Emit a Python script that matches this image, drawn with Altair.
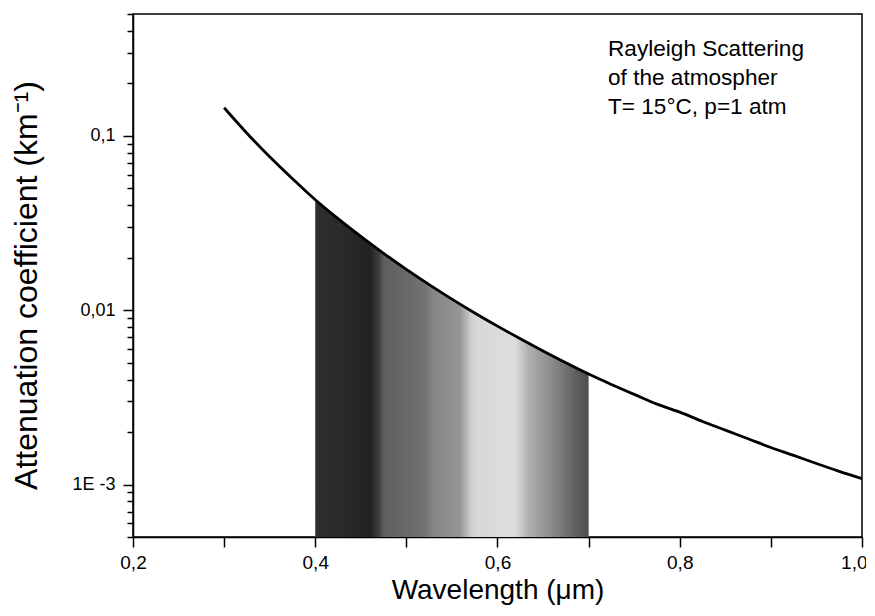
import altair as alt
import pandas as pd

# ---- data ----
wavelength = [0.300, 0.325, 0.350, 0.375, 0.400, 0.425, 0.450, 0.475, 0.500,
              0.525, 0.550, 0.575, 0.600, 0.625, 0.650, 0.675, 0.700, 0.725,
              0.750, 0.775, 0.800, 0.825, 0.850, 0.875, 0.900, 0.925, 0.950,
              0.975, 1.000]
attenuation = [0.145, 0.1036, 0.0759, 0.0568, 0.043, 0.0335, 0.0265, 0.0212,
               0.01715, 0.01403, 0.01158, 0.00964, 0.0081, 0.00685, 0.00583,
               0.00499, 0.0043, 0.00375, 0.00329, 0.00289, 0.0026, 0.0023,
               0.00205, 0.00183, 0.00163, 0.00147, 0.00132, 0.00119, 0.00108]

visible_band = [0.4, 0.7]

x_tick_values = [0.2, 0.4, 0.6, 0.8, 1.0]
x_tick_labels = ["0,2", "0,4", "0,6", "0,8", "1,0"]
x_minor_values = [0.3, 0.5, 0.7, 0.9]

y_tick_values = [0.001, 0.01, 0.1]
y_tick_labels = ["1E -3", "0,01", "0,1"]

annotation = ["Rayleigh Scattering", "of the atmospher", "T= 15°C, p=1 atm"]

df = pd.DataFrame({"wl": wavelength, "att": attenuation})

FONT = "Liberation Sans"

# all log-axis tick positions (2..9 minors per decade)
y_all_ticks = []
for dec in [1e-4, 1e-3, 1e-2, 1e-1]:
    for m in range(1, 10):
        v = round(m * dec, 8)
        if 5e-4 - 1e-12 <= v <= 0.5 + 1e-12:
            y_all_ticks.append(v)


def label_expr(values, labels, tol):
    expr = "''"
    for v, l in zip(values, labels):
        expr = f"abs(datum.value - {v}) < {tol} ? '{l}' : ({expr})"
    return expr


x_scale = alt.Scale(domain=[0.2, 1.0], nice=False, zero=False)
y_scale = alt.Scale(type="log", domain=[5e-4, 0.5], nice=False)

last_x = "datum.value > 0.99"

x_axis = alt.Axis(
    values=sorted(x_tick_values + x_minor_values),
    labelExpr=label_expr(x_tick_values, x_tick_labels, 1e-6),
    title="Wavelength (μm)",
    titleFontSize=28, titleFont=FONT, titleFontWeight="normal", titleColor="black",
    titlePadding=4,
    labelFontSize=19, labelFont=FONT, labelColor="black", labelPadding=6,
    labelFlush=False,
    labelAlign={"condition": {"test": last_x, "value": "right"}, "value": "center"},
    labelOffset={"condition": {"test": last_x, "value": 5}, "value": 0},
    tickSize=10, tickWidth=1.5, tickColor="black",
    domainColor="black", domainWidth=1.5, grid=False,
)

y_axis = alt.Axis(
    values=y_all_ticks,
    labelExpr=label_expr(y_tick_values, y_tick_labels, 1e-9),
    title="Attenuation coefficient (km⁻¹)",
    titleFontSize=32, titleFont=FONT, titleFontWeight="normal", titleColor="black",
    titleX=-107, titleY=271, titleBaseline="middle",
    labelFontSize=18, labelFont=FONT, labelColor="black", labelPadding=8,
    labelFlush=False, labelOverlap=False,
    tickSize={"condition": {"test": "abs(log(datum.value)/LN10 - round(log(datum.value)/LN10)) < 1e-6", "value": 10}, "value": 6},
    tickWidth=1.5, tickColor="black",
    domainColor="black", domainWidth=1.5, grid=False,
)

gradient = alt.Gradient(
    gradient="linear", x1=0, x2=1, y1=0, y2=0,
    stops=[
        alt.GradientStop(color="#2e2e2e", offset=0.0),
        alt.GradientStop(color="#2a2a2a", offset=0.10),
        alt.GradientStop(color="#222222", offset=0.20),
        alt.GradientStop(color="#3a3a3a", offset=0.23),
        alt.GradientStop(color="#5e5e5e", offset=0.25),
        alt.GradientStop(color="#727272", offset=0.40),
        alt.GradientStop(color="#858585", offset=0.43),
        alt.GradientStop(color="#969696", offset=0.53),
        alt.GradientStop(color="#cfcfcf", offset=0.57),
        alt.GradientStop(color="#d8d8d8", offset=0.60),
        alt.GradientStop(color="#dedede", offset=0.73),
        alt.GradientStop(color="#b0b0b0", offset=0.78),
        alt.GradientStop(color="#9a9a9a", offset=0.83),
        alt.GradientStop(color="#7a7a7a", offset=0.90),
        alt.GradientStop(color="#606060", offset=0.95),
        alt.GradientStop(color="#4e4e4e", offset=1.0),
    ],
)

base = alt.Chart(df)

area = base.transform_filter(
    f"datum.wl >= {visible_band[0]} - 1e-9 && datum.wl <= {visible_band[1]} + 1e-9"
).mark_area(color=gradient, interpolate="monotone").encode(
    x=alt.X("wl:Q", scale=x_scale, axis=x_axis),
    y=alt.Y("att:Q", scale=y_scale, axis=y_axis),
    y2=alt.datum(5e-4),
)

line = base.mark_line(color="black", strokeWidth=2.8, interpolate="monotone").encode(
    x=alt.X("wl:Q", scale=x_scale, axis=x_axis),
    y=alt.Y("att:Q", scale=y_scale, axis=y_axis),
)

text = alt.Chart(pd.DataFrame({"t": [annotation]})).mark_text(
    align="left", baseline="alphabetic", fontSize=22.6, font=FONT,
    color="black", lineHeight=29,
).encode(
    x=alt.datum(0.7213, scale=x_scale),
    y=alt.datum(0.288, scale=y_scale),
    text="t",
)

chart = alt.layer(area, line, text).properties(
    width=729, height=523,
    autosize=alt.AutoSizeParams(type="none"),
    padding={"left": 125, "top": 6, "right": 4, "bottom": 70},
    background="white",
).configure_view(stroke="black", strokeWidth=1.5)

chart.save("out.html", embed_options={"renderer": "svg", "actions": False})
